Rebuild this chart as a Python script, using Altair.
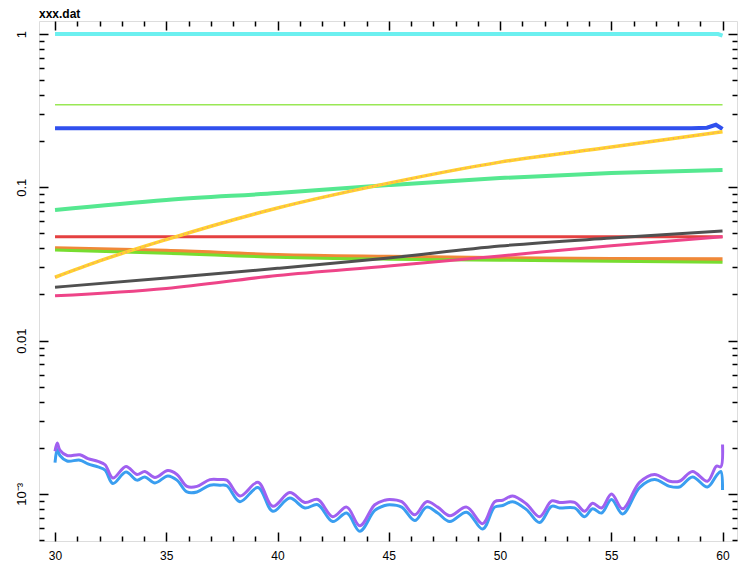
import altair as alt
import pandas as pd

W, H = 698, 520

# ---- data ----
cyan_x = [30, 59.8, 60]
cyan_y = [1.0, 1.0, 0.975]

lgreen_x = [30, 60]
lgreen_y = [0.345, 0.345]

bthick_x = [30, 58.6, 59.3, 59.7, 60]
bthick_y = [0.243, 0.243, 0.245, 0.256, 0.240]

seafoam_x = [30, 35, 40, 45, 50, 55, 60]
seafoam_y = [0.0711, 0.0826, 0.0918, 0.1035, 0.115, 0.124, 0.1296]

red_x = [30, 60]
red_y = [0.0476, 0.0476]

orange_x = [30, 35, 40, 45, 50, 55, 60]
orange_y = [0.0400, 0.0385, 0.0362, 0.0352, 0.0345, 0.0341, 0.0339]

green_x = [30, 35, 40, 45, 50, 55, 60]
green_y = [0.0390, 0.0372, 0.0350, 0.0340, 0.0335, 0.0330, 0.0324]

gray_x = [30, 35, 40, 45, 50, 55, 60]
gray_y = [0.0223, 0.0256, 0.0296, 0.0346, 0.0414, 0.0467, 0.0519]

pink_x = [30, 35, 40, 45, 50, 55, 60]
pink_y = [0.0196, 0.0219, 0.0266, 0.0307, 0.0357, 0.0416, 0.0476]

yellow_x = [30, 32, 35, 40, 45, 50, 55, 60]
yellow_y = [0.0259, 0.0331, 0.0456, 0.0733, 0.1065, 0.146, 0.183, 0.2306]

noisy_x = [30.0, 30.1, 30.22, 30.54, 31.12, 31.48, 31.93, 32.25, 32.6, 33.19,
           33.68, 34.04, 34.49, 35.07, 35.48, 35.93, 36.38, 36.96, 37.41, 37.72,
           38.31, 39.12, 39.79, 40.55, 41.23, 41.81, 42.48, 43.11, 43.7, 44.37,
           44.82, 45.04, 45.58, 46.17, 46.7, 47.2, 47.74, 48.5, 49.22, 49.76,
           50.12, 50.57, 51.19, 51.78, 52.32, 52.68, 53.35, 53.8, 54.16, 54.56,
           55.01, 55.51, 56.27, 56.94, 57.62, 58.06, 58.65, 59.32, 59.73, 59.92, 60.0]
purple_y = [0.00190, 0.00215, 0.00193, 0.00178, 0.00180, 0.00170, 0.00163, 0.00155, 0.00127, 0.00151,
            0.00134, 0.00140, 0.00128, 0.00142, 0.00134, 0.00112, 0.00112, 0.00124, 0.00124, 0.00123,
            0.00097, 0.00119, 0.00083, 0.00102, 0.00088, 0.00092, 0.00071, 0.00082, 0.00062, 0.00085,
            0.00091, 0.00092, 0.00089, 0.00073, 0.00089, 0.00082, 0.00072, 0.00082, 0.00064, 0.00089,
            0.00091, 0.00097, 0.00086, 0.00071, 0.00090, 0.00088, 0.00088, 0.00077, 0.00087, 0.00081,
            0.00100, 0.00080, 0.00119, 0.00134, 0.00121, 0.00121, 0.00140, 0.00121, 0.00152, 0.00150, 0.00210]
bnoisy_y = [0.00160, 0.00195, 0.00178, 0.00164, 0.00166, 0.00157, 0.00150, 0.00143, 0.00117, 0.00139,
            0.00123, 0.00129, 0.00118, 0.00131, 0.00123, 0.00103, 0.00103, 0.00114, 0.00114, 0.00113,
            0.00089, 0.00110, 0.00077, 0.00094, 0.00081, 0.00085, 0.00066, 0.00075, 0.00057, 0.00078,
            0.00084, 0.00085, 0.00082, 0.00067, 0.00082, 0.00075, 0.00066, 0.00076, 0.00059, 0.00082,
            0.00084, 0.00089, 0.00079, 0.00065, 0.00083, 0.00081, 0.00081, 0.00071, 0.00080, 0.00075,
            0.00092, 0.00074, 0.00110, 0.00124, 0.00112, 0.00111, 0.00129, 0.00111, 0.00132, 0.00140, 0.00106]

x_major = [30, 35, 40, 45, 50, 55, 60]
x_ticks = list(range(30, 61))
y_major = [0.001, 0.01, 0.1, 1]
y_ticks = [round(m * 10.0 ** k, 10) for k in (-4, -3, -2, -1, 0) for m in range(1, 10)]
y_ticks = [v for v in y_ticks if 4.9e-4 <= v <= 1.2]
y_label_expr = ("datum.value == 1 ? '1' : datum.value == 0.1 ? '0.1' : "
                "datum.value == 0.01 ? '0.01' : '10⁻³'")

xscale = alt.Scale(domain=[29.28, 60.65], nice=False, zero=False)
yscale = alt.Scale(type="log", domain=[4.93e-4, 1.216], nice=False)

FONT = "Liberation Sans"

x_size = {"condition": {"test": "datum.value % 5 === 0", "value": 9}, "value": 5}
y_size = {"condition": {"test": "abs(log(datum.value)/LN10 - round(log(datum.value)/LN10)) < 0.001",
                        "value": 9}, "value": 5}

def tick_axis_x(orient):
    return alt.Axis(orient=orient, offset=-H, values=x_ticks, labels=False, domain=False,
                    grid=False, ticks=True, tickColor="black", tickWidth=1.5,
                    tickSize=x_size, title=None, zindex=1)

def tick_axis_y(orient):
    return alt.Axis(orient=orient, offset=-W, values=y_ticks, labels=False, domain=False,
                    grid=False, ticks=True, tickColor="black", tickWidth=1.5,
                    tickSize=y_size, title=None, zindex=1)

x_axes = [
    alt.Axis(orient="bottom", values=x_major, ticks=False, tickSize=0, domain=False, grid=False,
             labelPadding=9, labelFont=FONT, labelFontSize=12, labelColor="black", title=None),
    tick_axis_x("top"),
    tick_axis_x("bottom"),
]
y_axes = [
    alt.Axis(orient="left", values=y_major, ticks=False, tickSize=0, domain=False, grid=False,
             labelExpr=y_label_expr, labelAngle=270, labelAlign="center", labelBaseline="bottom",
             labelPadding=11, labelFont=FONT, labelFontSize=13, labelColor="black", title=None),
    tick_axis_y("right"),
    tick_axis_y("left"),
]

series = [
    (noisy_x, bnoisy_y, "#3a9ef0", 3, None, "catmull-rom"),
    (noisy_x, purple_y, "#a060f0", 3, None, "catmull-rom"),
    (cyan_x, cyan_y, "#6cf0f0", 4, None, "linear"),
    (lgreen_x, lgreen_y, "#99e855", 1.5, None, "linear"),
    (bthick_x, bthick_y, "#3050ee", 4, None, "linear"),
    (seafoam_x, seafoam_y, "#55e890", 4, None, "monotone"),
    (orange_x, orange_y, "#f08838", 4, None, "monotone"),
    (green_x, green_y, "#77dd30", 3, None, "monotone"),
    (red_x, red_y, "#e44040", 3, None, "linear"),
    (gray_x, gray_y, "#505050", 3, None, "monotone"),
    (pink_x, pink_y, "#ee4488", 3, None, "monotone"),
    (yellow_x, yellow_y, "#ffd030", 3.5, None, "monotone"),
    (yellow_x, yellow_y, "#f09080", 1.5, [1, 4], "monotone"),
]

layers = []
for i, (xs, ys, color, sw, dash, interp) in enumerate(series):
    df = pd.DataFrame({"x": xs, "y": ys})
    xa = x_axes[i] if i < len(x_axes) else None
    ya = y_axes[i] if i < len(y_axes) else None
    mk = dict(color=color, strokeWidth=sw, interpolate=interp, clip=True)
    if dash:
        mk["strokeDash"] = dash
    layers.append(
        alt.Chart(df).mark_line(**mk).encode(
            x=alt.X("x:Q", scale=xscale, axis=xa),
            y=alt.Y("y:Q", scale=yscale, axis=ya),
        )
    )

chart = (
    alt.layer(*layers)
    .resolve_axis(x="independent", y="independent")
    .properties(
        width=W, height=H,
        title=alt.TitleParams("xxx.dat", anchor="start", frame="group", fontSize=12,
                              fontWeight="bold", font=FONT, color="black", offset=5, dy=6),
        autosize=alt.AutoSizeParams(type="none"),
        padding={"left": 31, "top": 13, "right": 5, "bottom": 20},
    )
    .configure_view(stroke="black", strokeWidth=3)
    .configure(background="white")
)

chart.save("out.html", embed_options={"renderer": "svg", "actions": False})
